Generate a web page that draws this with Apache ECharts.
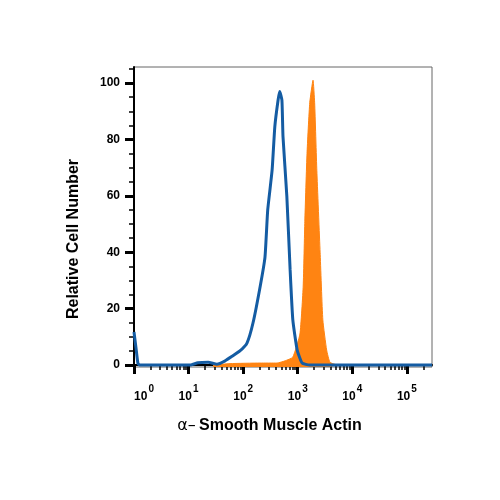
<!DOCTYPE html>
<html>
<head>
<meta charset="utf-8">
<script src="https://cdn.jsdelivr.net/npm/echarts@6/dist/echarts.min.js"></script>
<style>
html,body{margin:0;padding:0;background:#fff;}
#c{width:500px;height:500px;}
</style>
</head>
<body>
<div id="c"></div>
<script>
// x values are log10 of fluorescence intensity
const xDecades = [0, 1, 2, 3, 4, 5];
const yMajorTicks = [0, 20, 40, 60, 80, 100];
const yMinorTicks = [5, 10, 15, 25, 30, 35, 45, 50, 55, 65, 70, 75, 85, 90, 95, 105];

const isotypeLogX = [0.0, 0.037, 0.073, 0.11, 1.03, 1.17, 1.36, 1.52, 1.67, 1.79, 1.94, 2.07, 2.18, 2.31, 2.40, 2.45, 2.53, 2.58, 2.64, 2.67, 2.71, 2.73, 2.80, 2.86, 2.91, 2.99, 3.08, 3.22, 5.46];
const isotypeCount = [11.7, 6, 0.5, 0, 0, 0.8, 1.0, 0.3, 1.5, 3, 5, 7.8, 14.9, 27.7, 38.3, 55, 69, 84.5, 94, 97, 94, 81, 60, 34, 16, 5.3, 0.7, 0, 0];

const stainedLogX = [1.45, 1.76, 2.31, 2.62, 2.77, 2.91, 3.04, 3.10, 3.13, 3.17, 3.22, 3.28, 3.31, 3.35, 3.41, 3.46, 3.53, 3.59, 3.72];
const stainedCount = [0, 0.5, 0.7, 0.7, 1.5, 2.8, 11, 28, 51, 75, 93, 101, 93, 69, 40, 16, 5.3, 1, 0];

const X_MAX = 5.46;
const minorX = [];
xDecades.forEach(d => { for (let k = 2; k <= 9; k++) { const v = d + Math.log10(k); if (v <= X_MAX) minorX.push(v); } });

const zip = (a, b) => a.map((v, i) => [v, b[i]]);
const FONT = 'Liberation Sans';

const chart = echarts.init(document.getElementById('c'));
chart.setOption({
  animation: false,
  backgroundColor: '#fff',
  grid: { left: 134, right: 68, top: 67, bottom: 133, show: true, borderColor: '#666', borderWidth: 1 },
  xAxis: [{
    type: 'value', min: 0, max: X_MAX,
    axisLine: { lineStyle: { color: '#000', width: 2 } },
    axisTick: { show: true, customValues: xDecades, length: 9, lineStyle: { color: '#000', width: 3 } },
    splitLine: { show: false },
    axisLabel: {
      customValues: xDecades, margin: 17,
      formatter: v => (Math.round(v) === 0 ? '{p|}' : '') + '{b|10}{s|' + Math.round(v) + '}',
      rich: {
        p: { width: 20 },
        b: { fontFamily: FONT, fontWeight: 'bold', fontSize: 12, color: '#000', verticalAlign: 'bottom' },
        s: { fontFamily: FONT, fontWeight: 'bold', fontSize: 10, color: '#000', verticalAlign: 'bottom', padding: [0, 0, 9, 1] }
      }
    },
    name: '{a|α–} {n|Smooth Muscle Actin}',
    nameLocation: 'middle', nameGap: 51,
    nameTextStyle: {
      padding: [0, 27, 0, 0],
      rich: {
        a: { fontFamily: 'DejaVu Sans', fontSize: 16, color: '#000' },
        n: { fontFamily: FONT, fontWeight: 'bold', fontSize: 16, color: '#000' }
      }
    }
  }, {
    type: 'value', min: 0, max: X_MAX, position: 'bottom',
    axisLine: { show: false },
    axisTick: { show: true, customValues: minorX, length: 5, lineStyle: { color: '#000', width: 1.5 } },
    axisLabel: { show: false },
    splitLine: { show: false }
  }],
  yAxis: [{
    type: 'value', min: -0.7, max: 105.7,
    axisLine: { show: true, lineStyle: { color: '#000', width: 2 } },
    axisTick: { show: true, customValues: yMajorTicks, length: 9, lineStyle: { color: '#000', width: 3 } },
    splitLine: { show: false },
    axisLabel: { customValues: yMajorTicks, margin: 14, fontFamily: FONT, fontWeight: 'bold', fontSize: 12, color: '#000' },
    name: 'Relative Cell Number',
    nameLocation: 'middle', nameGap: 52, nameRotate: 90,
    nameTextStyle: { fontFamily: FONT, fontWeight: 'bold', fontSize: 16, color: '#000', padding: [0, 44, 0, 0] }
  }, {
    type: 'value', min: -0.7, max: 105.7, position: 'left',
    axisLine: { show: false },
    axisTick: { show: true, customValues: yMinorTicks, length: 5, lineStyle: { color: '#000', width: 1.5 } },
    axisLabel: { show: false },
    splitLine: { show: false }
  }],
  series: [{
    type: 'line', name: 'stained', data: zip(stainedLogX, stainedCount),
    showSymbol: false, smooth: 0.15, z: 2,
    lineStyle: { color: '#ff8412', width: 1 },
    areaStyle: { color: '#ff8412', opacity: 1, origin: 'start' }
  }, {
    type: 'line', name: 'isotype', data: zip(isotypeLogX, isotypeCount),
    showSymbol: false, smooth: 0.15, z: 3,
    lineStyle: { color: '#145ca3', width: 3 }
  }]
});
</script>
</body>
</html>
